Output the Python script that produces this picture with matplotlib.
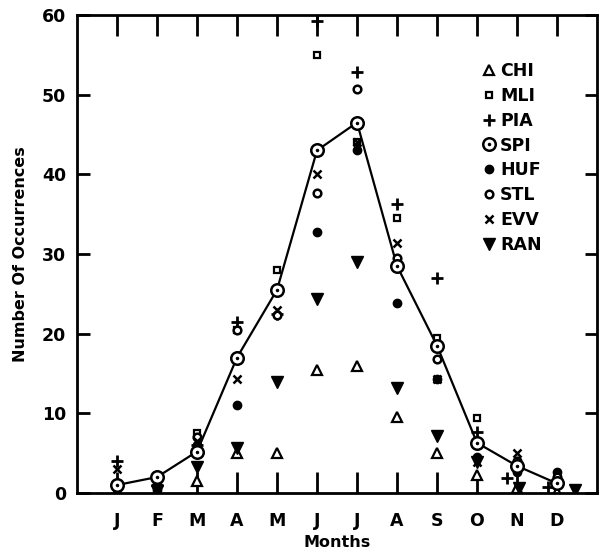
import matplotlib
matplotlib.use("Agg")
import matplotlib.pyplot as plt
import numpy as np

months = ["J", "F", "M", "A", "M", "J", "J", "A", "S", "O", "N", "D"]
month_pos = np.arange(1, 13)

# occurrences per month for each station
chi = [0, 0, 1.5, 5, 5, 15.5, 16, 9.5, 5, 2.3, 0.6, 0.1]
mli = [1, 1, 7.5, 20.5, 28, 55, 44, 34.5, 19.5, 9.4, 3, 1]
pia = [4, 1, 6, 21.5, 22.5, 59.3, 52.8, 36.3, 27, 7.6, 1.9, 0.8]
spi = [1, 2, 5.2, 17, 25.5, 43, 46.5, 28.5, 18.5, 6.3, 3.4, 1.2]
huf = [0.5, 0.4, 6, 11, 25.5, 32.7, 43, 23.8, 14.3, 4.5, 2.6, 2.6]
stl = [0.7, 1, 7, 20.5, 22.3, 37.6, 50.7, 29.5, 16.8, 6.1, 4, 2]
evv = [3, 1, 6.5, 14.3, 23, 40, 44, 31.4, 14.3, 3.9, 5, 1.4]
ran = [0.3, 0.3, 3.3, 5.6, 13.9, 24.3, 29, 13.2, 7.1, 3.9, 0.6, 0.4]

# a few markers are drawn slightly off their month in the original
pia_pos = [1, 2, 3, 4, 5, 6, 7, 8, 9, 10, 10.75, 11.78]
ran_pos = [1, 2, 3, 4, 5, 6, 7, 8, 9, 10, 11.05, 12.45]

fig = plt.figure(figsize=(6.07, 5.56), dpi=100)
ax = fig.add_axes([77 / 607, (556 - 493) / 556, 520 / 607, 478 / 556])

ax.plot(month_pos, spi, color="black", lw=1.6, zorder=2)

h_chi, = ax.plot(month_pos, chi, "^", ms=7, mfc="white", mec="black", mew=1.6, ls="none")
h_mli, = ax.plot(month_pos, mli, "s", ms=5, mfc="white", mec="black", mew=1.6, ls="none")
h_pia, = ax.plot(pia_pos, pia, "+", ms=8, mec="black", mew=2, ls="none")
h_spi, = ax.plot(month_pos, spi, "o", ms=9, mfc="white", mec="black", mew=1.8, ls="none", zorder=3)
h_spi_dot, = ax.plot(month_pos, spi, ".", ms=3, color="black", ls="none", zorder=4)
h_huf, = ax.plot(month_pos, huf, "o", ms=6, color="black", ls="none")
h_stl, = ax.plot(month_pos, stl, "o", ms=5.5, mfc="white", mec="black", mew=1.8, ls="none")
h_evv, = ax.plot(month_pos, evv, "x", ms=6, mec="black", mew=1.8, ls="none")
h_ran, = ax.plot(ran_pos, ran, "v", ms=8, color="black", ls="none")

handles = [h_chi, h_mli, h_pia, (h_spi, h_spi_dot), h_huf, h_stl, h_evv, h_ran]
labels = ["CHI", "MLI", "PIA", "SPI", "HUF", "STL", "EVV", "RAN"]
ax.legend(handles, labels, loc="upper left", bbox_to_anchor=(0.75, 0.935),
          frameon=False, handlelength=0.7, handletextpad=0.3, labelspacing=0.4,
          prop={"weight": "bold", "size": 12.5})

ax.set_xlim(0, 13)
ax.set_ylim(0, 60)
ax.set_xticks(month_pos)
ax.set_xticklabels(months)
ax.set_yticks(np.arange(0, 61, 10))

ax.tick_params(axis="both", direction="in", width=2, labelsize=12.5)
ax.tick_params(axis="x", length=15, top=True, pad=14)
ax.tick_params(axis="y", length=9, right=True, pad=8)
for lab in ax.get_xticklabels() + ax.get_yticklabels():
    lab.set_fontweight("bold")
for sp in ax.spines.values():
    sp.set_linewidth(2)

ax.set_xlabel("Months", fontweight="bold", fontsize=11.5, labelpad=3)
ax.set_ylabel("Number Of Occurrences", fontweight="bold", fontsize=11.5, labelpad=10)

fig.savefig("out.png", dpi=100)
